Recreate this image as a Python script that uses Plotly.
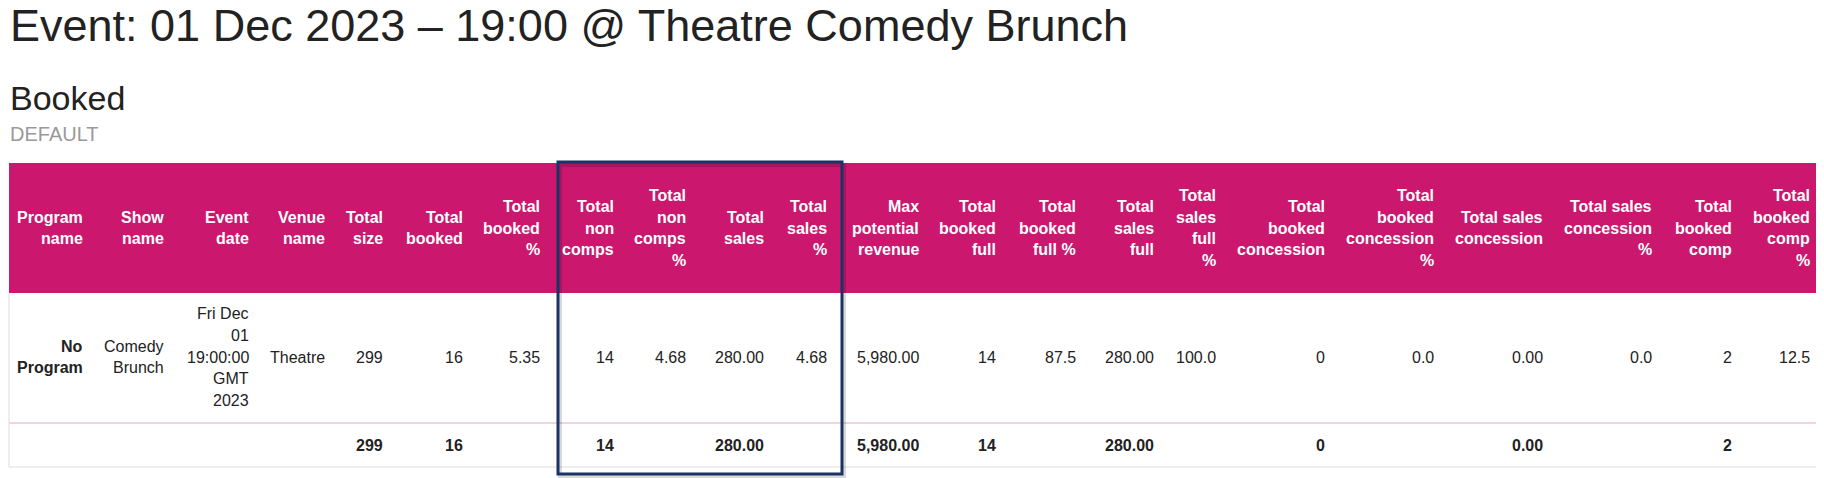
import plotly.graph_objects as go

title = "Event: 01 Dec 2023 – 19:00 @ Theatre Comedy Brunch"
subtitle = "Booked"
tag = "DEFAULT"

headers = [
    ["Program", "name"], ["Show", "name"], ["Event", "date"], ["Venue", "name"],
    ["Total", "size"], ["Total", "booked"], ["Total", "booked", "%"],
    ["Total", "non", "comps"], ["Total", "non", "comps", "%"],
    ["Total", "sales"], ["Total", "sales", "%"],
    ["Max", "potential", "revenue"], ["Total", "booked", "full"],
    ["Total", "booked", "full %"], ["Total", "sales", "full"],
    ["Total", "sales", "full", "%"], ["Total", "booked", "concession"],
    ["Total", "booked", "concession", "%"], ["Total sales", "concession"],
    ["Total sales", "concession", "%"], ["Total", "booked", "comp"],
    ["Total", "booked", "comp", "%"],
]
row_values = [
    ["No", "Program"], ["Comedy", "Brunch"], ["Fri Dec", "01", "19:00:00", "GMT", "2023"],
    ["Theatre"], ["299"], ["16"], ["5.35"], ["14"], ["4.68"], ["280.00"], ["4.68"],
    ["5,980.00"], ["14"], ["87.5"], ["280.00"], ["100.0"], ["0"], ["0.0"], ["0.00"],
    ["0.0"], ["2"], ["12.5"],
]
total_values = ["", "", "", "", "299", "16", "", "14", "", "280.00", "", "5,980.00",
                "14", "", "280.00", "", "0", "", "0.00", "", "2", ""]

# layout (page pixel positions)
col_right = [85, 166, 251, 327, 385, 465, 542, 616, 688, 766, 829, 921, 998, 1078,
             1156, 1218, 1327, 1436, 1545, 1654, 1734, 1812]
LH = 21.7
PINK = "#CB186E"
FONT = "Liberation Sans, Arial, sans-serif"
OFF = 8  # page body margin

fig = go.Figure()
shapes = []
ann = []

shapes.append(dict(type="rect", x0=9, x1=1824, y0=163, y1=293, fillcolor=PINK, line_width=0, layer="below"))
shapes.append(dict(type="line", x0=9, x1=1824, y0=423, y1=423, line=dict(color="#E3A6C2", width=1)))
shapes.append(dict(type="line", x0=9, x1=1824, y0=467, y1=467, line=dict(color="#DDDDDD", width=1)))
shapes.append(dict(type="line", x0=9, x1=9, y0=293, y1=467, line=dict(color="#DDDDDD", width=1)))
shapes.append(dict(type="rect", x0=560, x1=844, y0=165, y1=476, line=dict(color="rgba(0,0,0,0.15)", width=4)))
shapes.append(dict(type="rect", x0=558, x1=842, y0=162, y1=474, line=dict(color="#1B3366", width=3)))

def add_lines(lines, xr, yc, color, bold, size=16):
    n = len(lines)
    for i, t in enumerate(lines):
        y = yc + (i - (n - 1) / 2) * LH
        ann.append(dict(x=xr, y=y, text=f"<b>{t}</b>" if bold else t, xanchor="right",
                        yanchor="middle", showarrow=False,
                        font=dict(family=FONT, size=size, color=color)))

for i, h in enumerate(headers):
    add_lines(h, col_right[i], 228, "white", True)
for i, v in enumerate(row_values):
    add_lines(v, col_right[i], 357, "#222222", i == 0)
for i, v in enumerate(total_values):
    if v:
        add_lines([v], col_right[i], 445, "#222222", True)

ann.append(dict(x=8, y=25, text=title, xanchor="left", yanchor="middle", showarrow=False,
                font=dict(family=FONT, size=45, color="#222222")))
ann.append(dict(x=8, y=98, text=subtitle, xanchor="left", yanchor="middle", showarrow=False,
                font=dict(family=FONT, size=34, color="#222222")))
ann.append(dict(x=8, y=134, text=tag, xanchor="left", yanchor="middle", showarrow=False,
                font=dict(family=FONT, size=20, color="#999999")))

fig.update_layout(
    width=1824, height=478, margin=dict(l=0, r=0, t=0, b=0),
    paper_bgcolor="white", plot_bgcolor="white",
    xaxis=dict(range=[OFF, 1824 + OFF], visible=False, fixedrange=True),
    yaxis=dict(range=[478 + OFF, OFF], visible=False, fixedrange=True),
    shapes=shapes, annotations=ann, showlegend=False,
)
fig.write_html("out.html", config={"displayModeBar": False})
